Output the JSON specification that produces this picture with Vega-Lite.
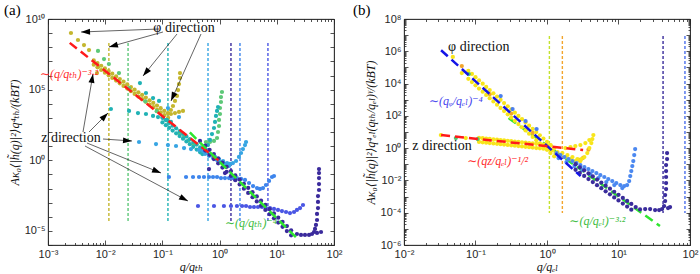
{
"$schema":"https://vega.github.io/schema/vega-lite/v6.json",
"background":"white",
"padding":{"left":3,"top":2,"right":2,"bottom":0},
"bounds":"flush",
"spacing":70,
"config":{
 "view":{"stroke":"#262626","strokeWidth":0.8},
 "axis":{"grid":false,"domainColor":"#262626","domainWidth":0.8,"tickColor":"#262626","tickWidth":0.8,"labelColor":"#262626","labelFont":"Liberation Sans","labelFontSize":11,"titleFont":"Liberation Serif, Times New Roman, DejaVu Serif, serif","titleFontStyle":"italic","titleFontWeight":"normal","titleFontSize":12,"titleColor":"#111111"},
 "title":{"font":"Liberation Serif, Times New Roman, DejaVu Serif, serif","fontSize":15,"fontWeight":"normal","anchor":"start","frame":"group","offset":-5,"color":"#000000"}
},
"datasets":{
 "vlinesA":[
  {"x":0.0116,"y":2.0e8,"y2":5.0e-5,"s":"ao"},{"x":0.0251,"y":2.0e8,"y2":5.0e-5,"s":"ag"},{"x":0.125,"y":2.0e8,"y2":5.0e-5,"s":"at"},{"x":0.627,"y":2.0e8,"y2":5.0e-5,"s":"al"},{"x":1.58,"y":2.0e8,"y2":5.0e-5,"s":"ai"},{"x":2.27,"y":2.0e8,"y2":5.0e-5,"s":"ab"},{"x":7.0,"y":2.0e8,"y2":5.0e-5,"s":"av"}],
 "vlinesB":[
  {"x":1.08,"y":8.9e6,"y2":9.5e-5,"s":"blime"},{"x":1.64,"y":8.9e6,"y2":9.5e-5,"s":"bo"},{"x":42,"y":8.9e6,"y2":9.5e-5,"s":"bi"},{"x":85,"y":8.9e6,"y2":9.5e-5,"s":"bv"}],
 "fitA":[
  {"x":2.4e-3,"y":2.04e8,"f":"fr"},{"x":0.955,"y":0.977,"f":"fr"},
  {"x":0.302,"y":92.5,"f":"fg"},{"x":21.9,"y":3.36e-6,"f":"fg"}],
 "fitB":[
  {"x":0.033,"y":1.16e6,"f":"fb"},{"x":2.95,"y":0.0184,"f":"fb"},
  {"x":0.033,"y":6.46,"f":"fr"},{"x":3.2,"y":0.767,"f":"fr"},
  {"x":0.29,"y":73.4,"f":"fg"},{"x":38,"y":1.5e-5,"f":"fg"}],
 "arrowsA":[
  {"x":0.0872,"y":1.96e9,"x2":3.78e-3,"y2":1.20e9},
  {"x":0.1023,"y":1.20e9,"x2":0.01164,"y2":1.04e8},
  {"x":0.180,"y":8.67e8,"x2":0.0458,"y2":9.2e5},
  {"x":0.473,"y":8.67e8,"x2":0.1413,"y2":1.57e4},
  {"x":4.09e-3,"y":100,"x2":6.12e-3,"y2":1.28e6},
  {"x":5.21e-3,"y":100,"x2":0.01119,"y2":2213},
  {"x":9.16e-3,"y":31.9,"x2":0.02944,"y2":23.1},
  {"x":4.81e-3,"y":16.6,"x2":0.0946,"y2":0.125},
  {"x":4.44e-3,"y":10.2,"x2":0.280,"y2":1.30e-3}],
 "dirA":[{"x":0.239,"y":2.31e9,"t":"φ direction"},{"x":2.52e-3,"y":37.6,"t":"z direction"}],
 "mathA":[{"x":2.33e-3,"y":1.28e6,"t":"∼(q/qₜₕ)⁻³·²","s":"tr"},{"x":3.54,"y":3.6e-5,"t":"∼(q/qₜₕ)⁻⁴","s":"tg"}],
 "dirB":[{"x":0.111,"y":1.84e6,"t":"φ direction"},{"x":0.0339,"y":1.35,"t":"z direction"}],
 "mathB":[{"x":0.0531,"y":832,"t":"∼(qᵩ/qₑₗ)⁻⁴","s":"tb"},{"x":0.204,"y":0.159,"t":"∼(qz/qₑₗ)⁻¹/²","s":"tr"},{"x":5.06,"y":3.05e-5,"t":"∼(q/qₑₗ)⁻³·²","s":"tg"}],
 "ptsA":[
  {"x":2.52e-3,"y":1.02e9,"s":"ao"},{"x":3.34e-3,"y":3.26e8,"s":"ao"},{"x":4.26e-3,"y":1.44e8,"s":"ao"},{"x":5.21e-3,"y":6.38e7,"s":"ao"},{"x":7.19e-3,"y":1.50e6,"s":"ao"},{"x":7.48e-3,"y":4.0e6,"s":"ao"},
  {"x":6.31e-3,"y":1.16e7,"s":"ao"},{"x":7.33e-3,"y":7.55e6,"s":"ao"},{"x":8.51e-3,"y":4.90e6,"s":"ao"},{"x":9.89e-3,"y":3.18e6,"s":"ao"},{"x":1.15e-2,"y":2.06e6,"s":"ao"},{"x":1.33e-2,"y":1.34e6,"s":"ao"},{"x":1.55e-2,"y":8.67e5,"s":"ao"},{"x":1.80e-2,"y":5.62e5,"s":"ao"},{"x":2.09e-2,"y":3.65e5,"s":"ao"},{"x":2.43e-2,"y":2.37e5,"s":"ao"},{"x":2.82e-2,"y":1.53e5,"s":"ao"},{"x":3.27e-2,"y":9.95e4,"s":"ao"},{"x":3.80e-2,"y":6.46e4,"s":"ao"},{"x":4.42e-2,"y":4.19e4,"s":"ao"},{"x":5.13e-2,"y":2.72e4,"s":"ao"},{"x":5.96e-2,"y":1.76e4,"s":"ao"},{"x":6.92e-2,"y":1.14e4,"s":"ao"},{"x":8.04e-2,"y":7.41e3,"s":"ao"},{"x":9.33e-2,"y":4.81e3,"s":"ao"},{"x":0.108,"y":3.12e3,"s":"ao"},{"x":0.126,"y":2.02e3,"s":"ao"},
  {"x":6.31e-3,"y":5.83e6,"s":"ao"},{"x":7.33e-3,"y":3.78e6,"s":"ao"},{"x":8.51e-3,"y":2.45e6,"s":"ao"},{"x":9.89e-3,"y":1.59e6,"s":"ao"},{"x":1.15e-2,"y":1.03e6,"s":"ao"},{"x":1.33e-2,"y":6.70e5,"s":"ao"},{"x":1.55e-2,"y":4.34e5,"s":"ao"},{"x":1.80e-2,"y":2.82e5,"s":"ao"},{"x":2.09e-2,"y":1.83e5,"s":"ao"},{"x":2.43e-2,"y":1.19e5,"s":"ao"},{"x":2.82e-2,"y":7.69e4,"s":"ao"},{"x":3.27e-2,"y":4.99e4,"s":"ao"},{"x":3.80e-2,"y":3.24e4,"s":"ao"},{"x":4.42e-2,"y":2.10e4,"s":"ao"},{"x":5.13e-2,"y":1.36e4,"s":"ao"},{"x":5.96e-2,"y":8.83e3,"s":"ao"},{"x":6.92e-2,"y":5.73e3,"s":"ao"},{"x":8.04e-2,"y":3.72e3,"s":"ao"},{"x":9.33e-2,"y":2.41e3,"s":"ao"},{"x":0.108,"y":1.56e3,"s":"ao"},{"x":0.126,"y":1.01e3,"s":"ao"},
  {"x":0.125,"y":2.21e3,"s":"ao"},{"x":0.141,"y":3.61e3,"s":"ao"},{"x":0.153,"y":6.93e3,"s":"ao"},{"x":0.166,"y":1.57e4,"s":"ao"},{"x":0.180,"y":3.54e4,"s":"ao"},{"x":0.188,"y":9.40e4,"s":"ao"},{"x":0.195,"y":2.50e5,"s":"ao"},{"x":0.203,"y":6.65e5,"s":"ao"},{"x":0.203,"y":1.50e6,"s":"ao"},
  {"x":0.141,"y":1.88e3,"s":"ao"},{"x":0.166,"y":2.21e3,"s":"ao"},{"x":0.195,"y":2.61e3,"s":"ao"},{"x":0.229,"y":3.07e3,"s":"ao"},
  {"x":7.48e-3,"y":5.43e7,"s":"ag"},{"x":9.53e-3,"y":1.47e7,"s":"ag"},{"x":1.16e-2,"y":6.52e6,"s":"ag"},{"x":1.74e-2,"y":1.50e6,"s":"ag"},{"x":2.61e-2,"y":1.30e5,"s":"ag"},{"x":0.0501,"y":1.5e4,"s":"ag"},{"x":0.0794,"y":3.0e3,"s":"ag"},{"x":0.126,"y":600,"s":"ag"},
  {"x":0.200,"y":82.4,"s":"ag"},{"x":0.240,"y":45.7,"s":"ag"},{"x":0.288,"y":25.4,"s":"ag"},{"x":0.347,"y":14.1,"s":"ag"},
  {"x":0.578,"y":19.6,"s":"ag"},{"x":0.679,"y":19.6,"s":"ag"},{"x":0.798,"y":23.1,"s":"ag"},{"x":0.902,"y":37.6,"s":"ag"},{"x":0.938,"y":100,"s":"ag"},{"x":0.977,"y":266,"s":"ag"},{"x":0.977,"y":708,"s":"ag"},{"x":1.016,"y":1.88e3,"s":"ag"},{"x":1.016,"y":5.0e3,"s":"ag"},{"x":1.057,"y":1.33e4,"s":"ag"},{"x":1.057,"y":3.0e4,"s":"ag"},{"x":1.10,"y":6.79e4,"s":"ag"},
  {"x":0.0405,"y":2.94e5,"s":"at"},{"x":0.0516,"y":5.77e4,"s":"at"},{"x":0.0686,"y":2.55e4,"s":"at"},{"x":0.0873,"y":1.57e4,"s":"at"},
  {"x":0.0126,"y":4.25e3,"s":"at"},{"x":0.0261,"y":3.07e3,"s":"at"},{"x":0.0374,"y":2.21e3,"s":"at"},{"x":0.0516,"y":1.88e3,"s":"at"},{"x":0.0686,"y":1.36e3,"s":"at"},{"x":0.0838,"y":1.15e3,"s":"at"},{"x":0.102,"y":980,"s":"at"},{"x":0.120,"y":708,"s":"at"},{"x":0.141,"y":511,"s":"at"},
  {"x":0.1,"y":1.06e3,"s":"at"},{"x":0.115,"y":682,"s":"at"},{"x":0.132,"y":439,"s":"at"},{"x":0.151,"y":282,"s":"at"},{"x":0.174,"y":181,"s":"at"},{"x":0.200,"y":116,"s":"at"},{"x":0.229,"y":74.8,"s":"at"},{"x":0.263,"y":48.1,"s":"at"},{"x":0.302,"y":30.9,"s":"at"},{"x":0.347,"y":19.9,"s":"at"},{"x":0.398,"y":12.8,"s":"at"},{"x":0.457,"y":8.20,"s":"at"},{"x":0.501,"y":6.11,"s":"at"},
  {"x":0.1,"y":474,"s":"at"},{"x":0.115,"y":305,"s":"at"},{"x":0.132,"y":196,"s":"at"},{"x":0.151,"y":126,"s":"at"},{"x":0.174,"y":80.9,"s":"at"},{"x":0.200,"y":52.0,"s":"at"},{"x":0.229,"y":33.4,"s":"at"},{"x":0.263,"y":21.5,"s":"at"},{"x":0.302,"y":13.8,"s":"at"},{"x":0.347,"y":8.87,"s":"at"},{"x":0.398,"y":5.70,"s":"at"},{"x":0.457,"y":3.66,"s":"at"},{"x":0.501,"y":2.73,"s":"at"},
  {"x":0.556,"y":6.25,"s":"at"},{"x":0.627,"y":12.0,"s":"at"},{"x":0.679,"y":27.2,"s":"at"},{"x":0.736,"y":72.1,"s":"at"},{"x":0.798,"y":192,"s":"at"},{"x":0.832,"y":511,"s":"at"},{"x":0.865,"y":1.36e3,"s":"at"},{"x":0.902,"y":3.07e3,"s":"at"},{"x":0.938,"y":5.89e3,"s":"at"},
  {"x":0.0390,"y":19.6,"s":"al"},{"x":0.0773,"y":14.1,"s":"al"},{"x":0.125,"y":12.0,"s":"al"},{"x":0.173,"y":10.2,"s":"al"},{"x":0.239,"y":7.36,"s":"al"},{"x":0.316,"y":6.25,"s":"al"},{"x":0.437,"y":5.32,"s":"al"},{"x":0.513,"y":4.52,"s":"al"},{"x":0.603,"y":3.26,"s":"al"},{"x":0.708,"y":2.35,"s":"al"},{"x":0.832,"y":1.70,"s":"al"},{"x":0.977,"y":1.22,"s":"al"},{"x":1.15,"y":0.885,"s":"al"},{"x":1.35,"y":0.638,"s":"al"},{"x":1.52,"y":0.543,"s":"al"},{"x":1.71,"y":0.638,"s":"al"},{"x":1.94,"y":0.885,"s":"al"},{"x":2.18,"y":1.70,"s":"al"},{"x":2.37,"y":3.26,"s":"al"},{"x":2.56,"y":6.25,"s":"al"},{"x":2.78,"y":12.0,"s":"al"},{"x":2.90,"y":19.6,"s":"al"},
  {"x":0.556,"y":2.77,"s":"al"},{"x":0.653,"y":2.0,"s":"al"},{"x":0.767,"y":1.44,"s":"al"},{"x":0.902,"y":1.04,"s":"al"},{"x":1.057,"y":0.752,"s":"al"},{"x":1.24,"y":0.543,"s":"al"},{"x":1.46,"y":0.392,"s":"al"},{"x":0.125,"y":5.0e3,"s":"al"},{"x":0.195,"y":1.15e3,"s":"al"},
  {"x":0.130,"y":0.0652,"s":"ab"},{"x":0.259,"y":0.0652,"s":"ab"},{"x":0.343,"y":0.0652,"s":"ab"},{"x":0.437,"y":0.0652,"s":"ab"},{"x":0.533,"y":0.0652,"s":"ab"},{"x":0.653,"y":0.0652,"s":"ab"},{"x":0.767,"y":0.0652,"s":"ab"},{"x":0.902,"y":0.0652,"s":"ab"},{"x":1.057,"y":0.0553,"s":"ab"},{"x":1.24,"y":0.0553,"s":"ab"},{"x":1.46,"y":0.0553,"s":"ab"},{"x":1.71,"y":0.0553,"s":"ab"},{"x":2.01,"y":0.0553,"s":"ab"},{"x":2.37,"y":0.0471,"s":"ab"},{"x":2.78,"y":0.0400,"s":"ab"},{"x":3.27,"y":0.0245,"s":"ab"},{"x":3.84,"y":0.0150,"s":"ab"},{"x":4.51,"y":0.0108,"s":"ab"},{"x":5.08,"y":9.23e-3,"s":"ab"},{"x":5.74,"y":0.0108,"s":"ab"},{"x":6.47,"y":0.0177,"s":"ab"},{"x":7.31,"y":0.0340,"s":"ab"},{"x":8.24,"y":0.0652,"s":"ab"},{"x":8.93,"y":0.0767,"s":"ab"},
  {"x":0.419,"y":5.77e-4,"s":"av"},{"x":0.798,"y":5.77e-4,"s":"av"},{"x":1.19,"y":5.77e-4,"s":"av"},{"x":1.58,"y":5.77e-4,"s":"av"},{"x":2.01,"y":5.77e-4,"s":"av"},{"x":2.47,"y":5.77e-4,"s":"av"},{"x":2.90,"y":5.77e-4,"s":"av"},{"x":3.40,"y":4.90e-4,"s":"av"},{"x":3.99,"y":4.90e-4,"s":"av"},{"x":4.69,"y":4.90e-4,"s":"av"},{"x":5.51,"y":4.90e-4,"s":"av"},{"x":6.47,"y":4.16e-4,"s":"av"},{"x":7.60,"y":4.16e-4,"s":"av"},{"x":8.93,"y":3.54e-4,"s":"av"},{"x":10.5,"y":3.01e-4,"s":"av"},{"x":12.3,"y":2.55e-4,"s":"av"},{"x":14.5,"y":2.17e-4,"s":"av"},{"x":17.0,"y":1.84e-4,"s":"av"},{"x":20.0,"y":2.17e-4,"s":"av"},{"x":22.5,"y":3.01e-4,"s":"av"},{"x":25.5,"y":4.16e-4,"s":"av"},{"x":28.7,"y":6.79e-4,"s":"av"},
  {"x":0.454,"y":23.1,"s":"ai"},{"x":0.653,"y":0.240,"s":"ai"},{"x":1.24,"y":0.125,"s":"ai"},
  {"x":0.562,"y":10.9,"s":"ai"},{"x":0.668,"y":5.44,"s":"ai"},{"x":0.794,"y":2.73,"s":"ai"},{"x":0.944,"y":1.37,"s":"ai"},{"x":1.12,"y":0.685,"s":"ai"},{"x":1.33,"y":0.344,"s":"ai"},{"x":1.58,"y":0.172,"s":"ai"},{"x":1.88,"y":0.0863,"s":"ai"},{"x":2.24,"y":0.0433,"s":"ai"},{"x":2.66,"y":0.0217,"s":"ai"},{"x":3.16,"y":0.0109,"s":"ai"},{"x":3.76,"y":5.44e-3,"s":"ai"},{"x":4.47,"y":2.73e-3,"s":"ai"},{"x":5.31,"y":1.37e-3,"s":"ai"},{"x":6.31,"y":6.85e-4,"s":"ai"},{"x":7.50,"y":3.44e-4,"s":"ai"},{"x":8.91,"y":1.72e-4,"s":"ai"},{"x":10.6,"y":8.63e-5,"s":"ai"},{"x":12.6,"y":4.33e-5,"s":"ai"},{"x":15.0,"y":2.17e-5,"s":"ai"},{"x":17.8,"y":1.09e-5,"s":"ai"},
  {"x":0.562,"y":4.85,"s":"ai"},{"x":0.668,"y":2.43,"s":"ai"},{"x":0.794,"y":1.22,"s":"ai"},{"x":0.944,"y":0.611,"s":"ai"},{"x":1.12,"y":0.306,"s":"ai"},{"x":1.33,"y":0.153,"s":"ai"},{"x":1.58,"y":0.0769,"s":"ai"},{"x":1.88,"y":0.0385,"s":"ai"},{"x":2.24,"y":0.0193,"s":"ai"},{"x":2.66,"y":9.68e-3,"s":"ai"},{"x":3.16,"y":4.85e-3,"s":"ai"},{"x":3.76,"y":2.43e-3,"s":"ai"},{"x":4.47,"y":1.22e-3,"s":"ai"},{"x":5.31,"y":6.11e-4,"s":"ai"},{"x":6.31,"y":3.06e-4,"s":"ai"},{"x":7.50,"y":1.53e-4,"s":"ai"},{"x":8.91,"y":7.69e-5,"s":"ai"},{"x":10.6,"y":3.85e-5,"s":"ai"},{"x":12.6,"y":1.93e-5,"s":"ai"},{"x":15.0,"y":9.68e-6,"s":"ai"},{"x":17.8,"y":4.85e-6,"s":"ai"},
  {"x":22.5,"y":6.01e-6,"s":"ai"},{"x":26.5,"y":5.11e-6,"s":"ai"},{"x":31.1,"y":5.11e-6,"s":"ai"},{"x":36.6,"y":5.11e-6,"s":"ai"},{"x":41.2,"y":6.01e-6,"s":"ai"},{"x":44.7,"y":8.32e-6,"s":"ai"},{"x":46.6,"y":1.36e-5,"s":"ai"},{"x":48.4,"y":2.61e-5,"s":"ai"},{"x":50.5,"y":5.89e-5,"s":"ai"},{"x":50.5,"y":1.57e-4,"s":"ai"},{"x":52.5,"y":4.16e-4,"s":"ai"},{"x":52.5,"y":1.11e-3,"s":"ai"},{"x":52.5,"y":2.94e-3,"s":"ai"},{"x":54.7,"y":7.83e-3,"s":"ai"},{"x":54.7,"y":0.0208,"s":"ai"},{"x":54.7,"y":0.0553,"s":"ai"},{"x":54.7,"y":0.125,"s":"ai"},{"x":54.7,"y":0.240,"s":"ai"},{"x":50.5,"y":7.08e-6,"s":"ai"},{"x":59.3,"y":8.32e-6,"s":"ai"}
 ],
 "ptsB":[
  {"x":0.0643,"y":1.22e5,"s":"bo"},{"x":0.158,"y":2.21e3,"s":"bo"},{"x":0.316,"y":139,"s":"bo"},{"x":0.631,"y":8.79,"s":"bo"},{"x":2.8,"y":0.19,"s":"bo"},{"x":3.2,"y":0.25,"s":"bo"},{"x":3.8,"y":0.8,"s":"bo"},
  {"x":0.0482,"y":4.43e5,"s":"by"},{"x":0.0643,"y":4.51e4,"s":"by"},
  {"x":0.0794,"y":6.22e4,"s":"by"},{"x":0.0891,"y":3.93e4,"s":"by"},{"x":0.100,"y":2.48e4,"s":"by"},{"x":0.112,"y":1.56e4,"s":"by"},{"x":0.126,"y":9.86e3,"s":"by"},{"x":0.141,"y":6.22e3,"s":"by"},{"x":0.158,"y":3.93e3,"s":"by"},{"x":0.178,"y":2.48e3,"s":"by"},{"x":0.200,"y":1.56e3,"s":"by"},{"x":0.224,"y":986,"s":"by"},{"x":0.251,"y":622,"s":"by"},{"x":0.282,"y":393,"s":"by"},{"x":0.316,"y":248,"s":"by"},{"x":0.355,"y":156,"s":"by"},{"x":0.398,"y":98.6,"s":"by"},{"x":0.447,"y":62.2,"s":"by"},{"x":0.501,"y":39.3,"s":"by"},{"x":0.562,"y":24.8,"s":"by"},{"x":0.631,"y":15.6,"s":"by"},{"x":0.708,"y":9.86,"s":"by"},{"x":0.794,"y":6.22,"s":"by"},{"x":0.891,"y":3.93,"s":"by"},{"x":1.0,"y":2.48,"s":"by"},{"x":1.12,"y":1.56,"s":"by"},{"x":1.26,"y":0.986,"s":"by"},
  {"x":0.0794,"y":1.97e4,"s":"by"},{"x":0.0891,"y":1.24e4,"s":"by"},{"x":0.100,"y":7.83e3,"s":"by"},{"x":0.112,"y":4.94e3,"s":"by"},{"x":0.126,"y":3.12e3,"s":"by"},{"x":0.141,"y":1.97e3,"s":"by"},{"x":0.158,"y":1.24e3,"s":"by"},{"x":0.178,"y":783,"s":"by"},{"x":0.200,"y":494,"s":"by"},{"x":0.224,"y":312,"s":"by"},{"x":0.251,"y":197,"s":"by"},{"x":0.282,"y":124,"s":"by"},{"x":0.316,"y":78.3,"s":"by"},{"x":0.355,"y":49.4,"s":"by"},{"x":0.398,"y":31.2,"s":"by"},{"x":0.447,"y":19.7,"s":"by"},{"x":0.501,"y":12.4,"s":"by"},{"x":0.562,"y":7.83,"s":"by"},{"x":0.631,"y":4.94,"s":"by"},{"x":0.708,"y":3.12,"s":"by"},{"x":0.794,"y":1.97,"s":"by"},{"x":0.891,"y":1.24,"s":"by"},{"x":1.0,"y":0.783,"s":"by"},{"x":1.12,"y":0.494,"s":"by"},{"x":1.26,"y":0.312,"s":"by"},
  {"x":0.0328,"y":6.50,"s":"by"},{"x":0.0731,"y":4.24,"s":"by"},
  {"x":0.112,"y":4.39,"s":"by"},{"x":0.126,"y":4.16,"s":"by"},{"x":0.141,"y":3.94,"s":"by"},{"x":0.158,"y":3.73,"s":"by"},{"x":0.178,"y":3.54,"s":"by"},{"x":0.200,"y":3.36,"s":"by"},{"x":0.224,"y":3.18,"s":"by"},{"x":0.251,"y":3.01,"s":"by"},{"x":0.282,"y":2.86,"s":"by"},{"x":0.316,"y":2.71,"s":"by"},{"x":0.355,"y":2.56,"s":"by"},{"x":0.398,"y":2.43,"s":"by"},{"x":0.447,"y":2.31,"s":"by"},{"x":0.501,"y":2.19,"s":"by"},{"x":0.562,"y":2.07,"s":"by"},{"x":0.631,"y":1.96,"s":"by"},{"x":0.708,"y":1.86,"s":"by"},{"x":0.794,"y":1.77,"s":"by"},{"x":0.891,"y":1.67,"s":"by"},{"x":1.0,"y":1.58,"s":"by"},{"x":1.12,"y":1.50,"s":"by"},
  {"x":0.112,"y":2.41,"s":"by"},{"x":0.126,"y":2.29,"s":"by"},{"x":0.141,"y":2.16,"s":"by"},{"x":0.158,"y":2.05,"s":"by"},{"x":0.178,"y":1.95,"s":"by"},{"x":0.200,"y":1.85,"s":"by"},{"x":0.224,"y":1.75,"s":"by"},{"x":0.251,"y":1.66,"s":"by"},{"x":0.282,"y":1.57,"s":"by"},{"x":0.316,"y":1.49,"s":"by"},{"x":0.355,"y":1.41,"s":"by"},{"x":0.398,"y":1.34,"s":"by"},{"x":0.447,"y":1.27,"s":"by"},{"x":0.501,"y":1.20,"s":"by"},{"x":0.562,"y":1.14,"s":"by"},{"x":0.631,"y":1.08,"s":"by"},{"x":0.708,"y":1.02,"s":"by"},{"x":0.794,"y":0.970,"s":"by"},{"x":0.891,"y":0.918,"s":"by"},{"x":1.0,"y":0.871,"s":"by"},{"x":1.12,"y":0.826,"s":"by"},
  {"x":1.19,"y":0.765,"s":"by"},{"x":1.40,"y":0.575,"s":"by"},{"x":1.64,"y":0.499,"s":"by"},{"x":1.93,"y":0.375,"s":"by"},{"x":2.27,"y":0.282,"s":"by"},{"x":2.66,"y":0.212,"s":"by"},{"x":3.03,"y":0.212,"s":"by"},{"x":3.33,"y":0.282,"s":"by"},{"x":3.66,"y":0.499,"s":"by"},{"x":3.91,"y":1.02,"s":"by"},{"x":4.17,"y":2.07,"s":"by"},{"x":4.31,"y":3.67,"s":"by"},{"x":4.45,"y":6.50,"s":"by"},
  {"x":1.31,"y":0.499,"s":"by"},{"x":1.54,"y":0.375,"s":"by"},{"x":1.81,"y":0.282,"s":"by"},{"x":2.13,"y":0.212,"s":"by"},{"x":2.49,"y":0.159,"s":"by"},{"x":2.93,"y":0.159,"s":"by"},
  {"x":1.81,"y":1.02,"s":"by"},{"x":2.13,"y":1.17,"s":"by"},{"x":2.49,"y":1.35,"s":"by"},{"x":2.93,"y":1.56,"s":"by"},{"x":3.44,"y":2.07,"s":"by"},{"x":3.91,"y":3.18,"s":"by"},
  {"x":0.0531,"y":4.24,"s":"bg"},{"x":0.107,"y":3.67,"s":"bg"},{"x":0.0806,"y":3.91e4,"s":"bg"},
  {"x":0.225,"y":1.69e3,"s":"bb"},{"x":0.330,"y":265,"s":"bb"},{"x":0.501,"y":47.9,"s":"bb"},{"x":0.715,"y":15.3,"s":"bb"},
  {"x":1.36,"y":0.499,"s":"bl"},{"x":1.54,"y":0.375,"s":"bl"},{"x":1.75,"y":0.282,"s":"bl"},{"x":2.00,"y":0.212,"s":"bl"},{"x":2.27,"y":0.159,"s":"bl"},{"x":2.58,"y":0.120,"s":"bl"},{"x":2.93,"y":0.0899,"s":"bl"},{"x":3.33,"y":0.0676,"s":"bl"},{"x":3.79,"y":0.0508,"s":"bl"},{"x":4.31,"y":0.0382,"s":"bl"},{"x":4.90,"y":0.0288,"s":"bl"},{"x":5.57,"y":0.0216,"s":"bl"},{"x":6.33,"y":0.0163,"s":"bl"},{"x":7.19,"y":0.0122,"s":"bl"},{"x":8.18,"y":9.18e-3,"s":"bl"},{"x":9.31,"y":6.90e-3,"s":"bl"},{"x":10.6,"y":5.19e-3,"s":"bl"},{"x":12.0,"y":4.50e-3,"s":"bl"},{"x":13.2,"y":5.19e-3,"s":"bl"},{"x":14.1,"y":9.18e-3,"s":"bl"},{"x":14.6,"y":0.0187,"s":"bl"},{"x":15.1,"y":0.0382,"s":"bl"},{"x":15.6,"y":0.0780,"s":"bl"},{"x":16.1,"y":0.159,"s":"bl"},{"x":16.6,"y":0.375,"s":"bl"},{"x":17.1,"y":0.881,"s":"bl"},
  {"x":1.45,"y":0.244,"s":"bl"},{"x":1.87,"y":0.138,"s":"bl"},{"x":2.42,"y":0.0780,"s":"bl"},{"x":3.13,"y":0.0441,"s":"bl"},{"x":4.04,"y":0.0249,"s":"bl"},{"x":5.22,"y":0.0141,"s":"bl"},{"x":6.75,"y":7.96e-3,"s":"bl"},{"x":8.73,"y":5.19e-3,"s":"bl"},{"x":11.3,"y":3.38e-3,"s":"bl"},
  {"x":2.51,"y":0.101,"s":"bi"},{"x":2.88,"y":0.0653,"s":"bi"},{"x":3.31,"y":0.0423,"s":"bi"},{"x":3.80,"y":0.0273,"s":"bi"},{"x":4.37,"y":0.0177,"s":"bi"},{"x":5.01,"y":0.0114,"s":"bi"},{"x":5.75,"y":7.36e-3,"s":"bi"},{"x":6.61,"y":4.76e-3,"s":"bi"},{"x":7.59,"y":3.08e-3,"s":"bi"},{"x":8.71,"y":1.99e-3,"s":"bi"},{"x":10.0,"y":1.29e-3,"s":"bi"},{"x":11.5,"y":8.30e-4,"s":"bi"},{"x":13.2,"y":5.37e-4,"s":"bi"},{"x":15.1,"y":3.47e-4,"s":"bi"},{"x":17.4,"y":2.24e-4,"s":"bi"},{"x":20.0,"y":1.6e-4,"s":"bi"},
  {"x":2.51,"y":0.0452,"s":"bi"},{"x":2.88,"y":0.0292,"s":"bi"},{"x":3.31,"y":0.0189,"s":"bi"},{"x":3.80,"y":0.0122,"s":"bi"},{"x":4.37,"y":7.89e-3,"s":"bi"},{"x":5.01,"y":5.09e-3,"s":"bi"},{"x":5.75,"y":3.29e-3,"s":"bi"},{"x":6.61,"y":2.13e-3,"s":"bi"},{"x":7.59,"y":1.37e-3,"s":"bi"},{"x":8.71,"y":8.89e-4,"s":"bi"},{"x":10.0,"y":5.74e-4,"s":"bi"},{"x":11.5,"y":3.71e-4,"s":"bi"},{"x":13.2,"y":2.40e-4,"s":"bi"},{"x":15.1,"y":1.55e-4,"s":"bi"},
  {"x":23.6,"y":1.69e-4,"s":"bi"},{"x":27.7,"y":1.69e-4,"s":"bi"},{"x":32.5,"y":1.47e-4,"s":"bi"},{"x":37.0,"y":1.47e-4,"s":"bi"},{"x":40.7,"y":1.69e-4,"s":"bi"},{"x":43.4,"y":2.59e-4,"s":"bi"},{"x":44.9,"y":5.30e-4,"s":"bi"},{"x":44.9,"y":1.24e-3,"s":"bi"},{"x":46.3,"y":2.93e-3,"s":"bi"},{"x":46.3,"y":6.90e-3,"s":"bi"},{"x":46.3,"y":0.0163,"s":"bi"},{"x":46.3,"y":0.0382,"s":"bi"},{"x":46.3,"y":0.0899,"s":"bi"},{"x":47.8,"y":0.212,"s":"bi"},{"x":47.8,"y":0.499,"s":"bi"},{"x":49.3,"y":1.95e-4,"s":"bi"},{"x":52.6,"y":2.25e-4,"s":"bi"}
 ]
},
"hconcat":[
 {
  "width":286,"height":226,
  "title":{"text":"(a)","dx":-44},
  "resolve":{"axis":{"x":"independent","y":"independent"}},
  "layer":[
   {"data":{"name":"vlinesA"},"mark":{"type":"rule","strokeDash":[3,2],"strokeWidth":1.4},
    "encoding":{
     "x":{"field":"x","type":"quantitative","scale":{"type":"log","domain":[0.001,100],"nice":false},
      "axis":{"orient":"bottom","values":[0.001,0.002,0.003,0.004,0.005,0.006,0.007,0.008,0.009,0.01,0.02,0.03,0.04,0.05,0.06,0.07,0.08,0.09,0.1,0.2,0.3,0.4,0.5,0.6,0.7,0.8,0.9,1,2,3,4,5,6,7,8,9,10,20,30,40,50,60,70,80,90,100],
       "labelExpr":"abs(log(datum.value)/LN10 - round(log(datum.value)/LN10)) < 0.001 ? '10' + (datum.value < 1 ? '⁻' : '') + substring('⁰¹²³⁴⁵⁶⁷⁸⁹', abs(round(log(datum.value)/LN10)) % 10, abs(round(log(datum.value)/LN10)) % 10 + 1) : ''",
       "tickSize":{"condition":{"test":"abs(log(datum.value)/LN10 - round(log(datum.value)/LN10)) < 0.001","value":-5},"value":-2.5},
       "labelPadding":8,"labelOverlap":false,"labelFlush":false,"title":"q/qₜₕ","titlePadding":0}},
     "y":{"field":"y","type":"quantitative","scale":{"type":"log","domain":[1e-6,1e10],"nice":false},
      "axis":{"orient":"left","values":[1e-6,1e-5,1e-4,0.001,0.01,0.1,1,10,100,1000,1e4,1e5,1e6,1e7,1e8,1e9,1e10],
       "labelExpr":"round(log(datum.value)/LN10) % 5 == 0 ? '10' + (datum.value < 1 ? '⁻' : '') + (abs(round(log(datum.value)/LN10)) >= 10 ? '¹' : '') + substring('⁰¹²³⁴⁵⁶⁷⁸⁹', abs(round(log(datum.value)/LN10)) % 10, abs(round(log(datum.value)/LN10)) % 10 + 1) : ''",
       "tickSize":-4,"labelPadding":7,"labelOverlap":false,"labelFlush":false,"title":"Aκ₀⟨|h̃(q)|²⟩q⁴ₜₕ/(kBT)","titlePadding":3}},
     "y2":{"field":"y2"},
     "color":{"field":"s","type":"nominal","legend":null,"scale":{"domain":["ao","ag","at","al","ab","av","ai","by","bo","bg","bb","bl","bi","blime","bv","fr","fg","fb","tr","tg","tb"],"range":["#c4b62e","#5dc878","#20b2b5","#37a5e3","#3d85ec","#4a56e4","#3a2a9c","#f8e51a","#f2a52c","#52c46c","#4a7eee","#4b88f0","#3a2c9c","#c3e22e","#4b6fec","#ff1a1a","#2ee52e","#1414e6","#ff2a2a","#3cbc3c","#4545ee"]}}}},
   {"data":{"name":"ptsA"},"mark":{"type":"point","filled":true,"shape":"circle","size":18,"opacity":1},
    "encoding":{
     "x":{"field":"x","type":"quantitative","scale":{"type":"log","domain":[0.001,100],"nice":false},
      "axis":{"orient":"top","values":[0.001,0.002,0.003,0.004,0.005,0.006,0.007,0.008,0.009,0.01,0.02,0.03,0.04,0.05,0.06,0.07,0.08,0.09,0.1,0.2,0.3,0.4,0.5,0.6,0.7,0.8,0.9,1,2,3,4,5,6,7,8,9,10,20,30,40,50,60,70,80,90,100],"labels":false,"title":null,
       "tickSize":{"condition":{"test":"abs(log(datum.value)/LN10 - round(log(datum.value)/LN10)) < 0.001","value":-5},"value":-2.5}}},
     "y":{"field":"y","type":"quantitative","scale":{"type":"log","domain":[1e-6,1e10],"nice":false},
      "axis":{"orient":"right","values":[1e-6,1e-5,1e-4,0.001,0.01,0.1,1,10,100,1000,1e4,1e5,1e6,1e7,1e8,1e9,1e10],"labels":false,"title":null,"tickSize":-4}},
     "color":{"field":"s","type":"nominal","legend":null,"scale":{"domain":["ao","ag","at","al","ab","av","ai","by","bo","bg","bb","bl","bi","blime","bv","fr","fg","fb","tr","tg","tb"],"range":["#c4b62e","#5dc878","#20b2b5","#37a5e3","#3d85ec","#4a56e4","#3a2a9c","#f8e51a","#f2a52c","#52c46c","#4a7eee","#4b88f0","#3a2c9c","#c3e22e","#4b6fec","#ff1a1a","#2ee52e","#1414e6","#ff2a2a","#3cbc3c","#4545ee"]}}}},
   {"data":{"name":"fitA"},"mark":{"type":"line","strokeDash":[9,5],"strokeWidth":2.5},
    "encoding":{
     "x":{"field":"x","type":"quantitative","scale":{"type":"log","domain":[0.001,100],"nice":false},"axis":null},
     "y":{"field":"y","type":"quantitative","scale":{"type":"log","domain":[1e-6,1e10],"nice":false},"axis":null},
     "color":{"field":"f","type":"nominal","legend":null,"scale":{"domain":["ao","ag","at","al","ab","av","ai","by","bo","bg","bb","bl","bi","blime","bv","fr","fg","fb","tr","tg","tb"],"range":["#c4b62e","#5dc878","#20b2b5","#37a5e3","#3d85ec","#4a56e4","#3a2a9c","#f8e51a","#f2a52c","#52c46c","#4a7eee","#4b88f0","#3a2c9c","#c3e22e","#4b6fec","#ff1a1a","#2ee52e","#1414e6","#ff2a2a","#3cbc3c","#4545ee"]}}}},
   {"data":{"name":"arrowsA"},"mark":{"type":"rule","color":"#222222","strokeWidth":0.7},
    "encoding":{
     "x":{"field":"x","type":"quantitative","scale":{"type":"log","domain":[0.001,100],"nice":false},"axis":null},
     "y":{"field":"y","type":"quantitative","scale":{"type":"log","domain":[1e-6,1e10],"nice":false},"axis":null},
     "x2":{"field":"x2"},"y2":{"field":"y2"}}},
   {"data":{"name":"arrowsA"},"transform":[{"calculate":"atan2(57.2*log(datum.x2/datum.x)/LN10, 14.125*log(datum.y2/datum.y)/LN10)*180/PI","as":"ang"}],
    "mark":{"type":"point","shape":"M0,0L-0.6,1.8L0.6,1.8Z","filled":true,"color":"#000000","size":100,"opacity":1},
    "encoding":{
     "x":{"field":"x2","type":"quantitative","scale":{"type":"log","domain":[0.001,100],"nice":false},"axis":null},
     "y":{"field":"y2","type":"quantitative","scale":{"type":"log","domain":[1e-6,1e10],"nice":false},"axis":null},
     "angle":{"field":"ang","type":"quantitative","scale":null}}},
   {"data":{"name":"dirA"},"mark":{"type":"text","font":"Liberation Serif, Times New Roman, DejaVu Serif, serif","fontSize":14,"color":"#111111"},
    "encoding":{
     "x":{"field":"x","type":"quantitative","scale":{"type":"log","domain":[0.001,100],"nice":false},"axis":null},
     "y":{"field":"y","type":"quantitative","scale":{"type":"log","domain":[1e-6,1e10],"nice":false},"axis":null},
     "text":{"field":"t"}}},
   {"data":{"name":"mathA"},"mark":{"type":"text","font":"Liberation Serif, Times New Roman, DejaVu Serif, serif","fontSize":12,"fontStyle":"italic"},
    "encoding":{
     "x":{"field":"x","type":"quantitative","scale":{"type":"log","domain":[0.001,100],"nice":false},"axis":null},
     "y":{"field":"y","type":"quantitative","scale":{"type":"log","domain":[1e-6,1e10],"nice":false},"axis":null},
     "text":{"field":"t"},
     "color":{"field":"s","type":"nominal","legend":null,"scale":{"domain":["ao","ag","at","al","ab","av","ai","by","bo","bg","bb","bl","bi","blime","bv","fr","fg","fb","tr","tg","tb"],"range":["#c4b62e","#5dc878","#20b2b5","#37a5e3","#3d85ec","#4a56e4","#3a2a9c","#f8e51a","#f2a52c","#52c46c","#4a7eee","#4b88f0","#3a2c9c","#c3e22e","#4b6fec","#ff1a1a","#2ee52e","#1414e6","#ff2a2a","#3cbc3c","#4545ee"]}}}}
  ]
 },
 {
  "width":286,"height":226,
  "title":{"text":"(b)","dx":-51},
  "resolve":{"axis":{"x":"independent","y":"independent"}},
  "layer":[
   {"data":{"name":"vlinesB"},"mark":{"type":"rule","strokeDash":[3,2],"strokeWidth":1.4},
    "encoding":{
     "x":{"field":"x","type":"quantitative","scale":{"type":"log","domain":[0.01,100],"nice":false},
      "axis":{"orient":"bottom","values":[0.01,0.02,0.03,0.04,0.05,0.06,0.07,0.08,0.09,0.1,0.2,0.3,0.4,0.5,0.6,0.7,0.8,0.9,1,2,3,4,5,6,7,8,9,10,20,30,40,50,60,70,80,90,100],
       "labelExpr":"abs(log(datum.value)/LN10 - round(log(datum.value)/LN10)) < 0.001 ? '10' + (datum.value < 1 ? '⁻' : '') + substring('⁰¹²³⁴⁵⁶⁷⁸⁹', abs(round(log(datum.value)/LN10)) % 10, abs(round(log(datum.value)/LN10)) % 10 + 1) : ''",
       "tickSize":{"condition":{"test":"abs(log(datum.value)/LN10 - round(log(datum.value)/LN10)) < 0.001","value":-5},"value":-2.5},
       "labelPadding":8,"labelOverlap":false,"labelFlush":false,"title":"q/qₑₗ","titlePadding":0}},
     "y":{"field":"y","type":"quantitative","scale":{"type":"log","domain":[1e-6,1e8],"nice":false},
      "axis":{"orient":"left","values":[1e-6,2e-6,3e-6,4e-6,5e-6,6e-6,7e-6,8e-6,9e-6,1e-5,2e-5,3e-5,4e-5,5e-5,6e-5,7e-5,8e-5,9e-5,1e-4,2e-4,3e-4,4e-4,5e-4,6e-4,7e-4,8e-4,9e-4,0.001,0.002,0.003,0.004,0.005,0.006,0.007,0.008,0.009,0.01,0.02,0.03,0.04,0.05,0.06,0.07,0.08,0.09,0.1,0.2,0.3,0.4,0.5,0.6,0.7,0.8,0.9,1,2,3,4,5,6,7,8,9,10,20,30,40,50,60,70,80,90,100,200,300,400,500,600,700,800,900,1000,2000,3000,4000,5000,6000,7000,8000,9000,1e4,2e4,3e4,4e4,5e4,6e4,7e4,8e4,9e4,1e5,2e5,3e5,4e5,5e5,6e5,7e5,8e5,9e5,1e6,2e6,3e6,4e6,5e6,6e6,7e6,8e6,9e6,1e7,2e7,3e7,4e7,5e7,6e7,7e7,8e7,9e7,1e8],
       "labelExpr":"abs(log(datum.value)/LN10 - round(log(datum.value)/LN10)) < 0.001 && round(log(datum.value)/LN10) % 2 == 0 ? '10' + (datum.value < 1 ? '⁻' : '') + substring('⁰¹²³⁴⁵⁶⁷⁸⁹', abs(round(log(datum.value)/LN10)) % 10, abs(round(log(datum.value)/LN10)) % 10 + 1) : ''",
       "tickSize":{"condition":{"test":"abs(log(datum.value)/LN10 - round(log(datum.value)/LN10)) < 0.001","value":-4},"value":-2},
       "labelPadding":7,"labelOverlap":false,"labelFlush":false,"title":"Aκ₀⟨|h̃(q)|²⟩q⁴ₑₗ(qₜₕ/qₑₗ)ᵞ/(kBT)","titlePadding":3}},
     "y2":{"field":"y2"},
     "color":{"field":"s","type":"nominal","legend":null,"scale":{"domain":["ao","ag","at","al","ab","av","ai","by","bo","bg","bb","bl","bi","blime","bv","fr","fg","fb","tr","tg","tb"],"range":["#c4b62e","#5dc878","#20b2b5","#37a5e3","#3d85ec","#4a56e4","#3a2a9c","#f8e51a","#f2a52c","#52c46c","#4a7eee","#4b88f0","#3a2c9c","#c3e22e","#4b6fec","#ff1a1a","#2ee52e","#1414e6","#ff2a2a","#3cbc3c","#4545ee"]}}}},
   {"data":{"name":"fitB"},"transform":[{"filter":"datum.f == 'fg'"}],"mark":{"type":"line","strokeDash":[9,5],"strokeWidth":2.5},
    "encoding":{
     "x":{"field":"x","type":"quantitative","scale":{"type":"log","domain":[0.01,100],"nice":false},"axis":null},
     "y":{"field":"y","type":"quantitative","scale":{"type":"log","domain":[1e-6,1e8],"nice":false},"axis":null},
     "color":{"field":"f","type":"nominal","legend":null,"scale":{"domain":["ao","ag","at","al","ab","av","ai","by","bo","bg","bb","bl","bi","blime","bv","fr","fg","fb","tr","tg","tb"],"range":["#c4b62e","#5dc878","#20b2b5","#37a5e3","#3d85ec","#4a56e4","#3a2a9c","#f8e51a","#f2a52c","#52c46c","#4a7eee","#4b88f0","#3a2c9c","#c3e22e","#4b6fec","#ff1a1a","#2ee52e","#1414e6","#ff2a2a","#3cbc3c","#4545ee"]}}}},
   {"data":{"name":"ptsB"},"mark":{"type":"point","filled":true,"shape":"circle","size":18,"opacity":1},
    "encoding":{
     "x":{"field":"x","type":"quantitative","scale":{"type":"log","domain":[0.01,100],"nice":false},
      "axis":{"orient":"top","values":[0.01,0.02,0.03,0.04,0.05,0.06,0.07,0.08,0.09,0.1,0.2,0.3,0.4,0.5,0.6,0.7,0.8,0.9,1,2,3,4,5,6,7,8,9,10,20,30,40,50,60,70,80,90,100],"labels":false,"title":null,
       "tickSize":{"condition":{"test":"abs(log(datum.value)/LN10 - round(log(datum.value)/LN10)) < 0.001","value":-5},"value":-2.5}}},
     "y":{"field":"y","type":"quantitative","scale":{"type":"log","domain":[1e-6,1e8],"nice":false},
      "axis":{"orient":"right","values":[1e-6,2e-6,3e-6,4e-6,5e-6,6e-6,7e-6,8e-6,9e-6,1e-5,2e-5,3e-5,4e-5,5e-5,6e-5,7e-5,8e-5,9e-5,1e-4,2e-4,3e-4,4e-4,5e-4,6e-4,7e-4,8e-4,9e-4,0.001,0.002,0.003,0.004,0.005,0.006,0.007,0.008,0.009,0.01,0.02,0.03,0.04,0.05,0.06,0.07,0.08,0.09,0.1,0.2,0.3,0.4,0.5,0.6,0.7,0.8,0.9,1,2,3,4,5,6,7,8,9,10,20,30,40,50,60,70,80,90,100,200,300,400,500,600,700,800,900,1000,2000,3000,4000,5000,6000,7000,8000,9000,1e4,2e4,3e4,4e4,5e4,6e4,7e4,8e4,9e4,1e5,2e5,3e5,4e5,5e5,6e5,7e5,8e5,9e5,1e6,2e6,3e6,4e6,5e6,6e6,7e6,8e6,9e6,1e7,2e7,3e7,4e7,5e7,6e7,7e7,8e7,9e7,1e8],"labels":false,"title":null,
       "tickSize":{"condition":{"test":"abs(log(datum.value)/LN10 - round(log(datum.value)/LN10)) < 0.001","value":-4},"value":-2}}},
     "color":{"field":"s","type":"nominal","legend":null,"scale":{"domain":["ao","ag","at","al","ab","av","ai","by","bo","bg","bb","bl","bi","blime","bv","fr","fg","fb","tr","tg","tb"],"range":["#c4b62e","#5dc878","#20b2b5","#37a5e3","#3d85ec","#4a56e4","#3a2a9c","#f8e51a","#f2a52c","#52c46c","#4a7eee","#4b88f0","#3a2c9c","#c3e22e","#4b6fec","#ff1a1a","#2ee52e","#1414e6","#ff2a2a","#3cbc3c","#4545ee"]}}}},
   {"data":{"name":"fitB"},"transform":[{"filter":"datum.f != 'fg'"}],"mark":{"type":"line","strokeDash":[9,5],"strokeWidth":2.5},
    "encoding":{
     "x":{"field":"x","type":"quantitative","scale":{"type":"log","domain":[0.01,100],"nice":false},"axis":null},
     "y":{"field":"y","type":"quantitative","scale":{"type":"log","domain":[1e-6,1e8],"nice":false},"axis":null},
     "color":{"field":"f","type":"nominal","legend":null,"scale":{"domain":["ao","ag","at","al","ab","av","ai","by","bo","bg","bb","bl","bi","blime","bv","fr","fg","fb","tr","tg","tb"],"range":["#c4b62e","#5dc878","#20b2b5","#37a5e3","#3d85ec","#4a56e4","#3a2a9c","#f8e51a","#f2a52c","#52c46c","#4a7eee","#4b88f0","#3a2c9c","#c3e22e","#4b6fec","#ff1a1a","#2ee52e","#1414e6","#ff2a2a","#3cbc3c","#4545ee"]}}}},
   {"data":{"name":"dirB"},"mark":{"type":"text","font":"Liberation Serif, Times New Roman, DejaVu Serif, serif","fontSize":14,"color":"#111111"},
    "encoding":{
     "x":{"field":"x","type":"quantitative","scale":{"type":"log","domain":[0.01,100],"nice":false},"axis":null},
     "y":{"field":"y","type":"quantitative","scale":{"type":"log","domain":[1e-6,1e8],"nice":false},"axis":null},
     "text":{"field":"t"}}},
   {"data":{"name":"mathB"},"mark":{"type":"text","font":"Liberation Serif, Times New Roman, DejaVu Serif, serif","fontSize":12,"fontStyle":"italic"},
    "encoding":{
     "x":{"field":"x","type":"quantitative","scale":{"type":"log","domain":[0.01,100],"nice":false},"axis":null},
     "y":{"field":"y","type":"quantitative","scale":{"type":"log","domain":[1e-6,1e8],"nice":false},"axis":null},
     "text":{"field":"t"},
     "color":{"field":"s","type":"nominal","legend":null,"scale":{"domain":["ao","ag","at","al","ab","av","ai","by","bo","bg","bb","bl","bi","blime","bv","fr","fg","fb","tr","tg","tb"],"range":["#c4b62e","#5dc878","#20b2b5","#37a5e3","#3d85ec","#4a56e4","#3a2a9c","#f8e51a","#f2a52c","#52c46c","#4a7eee","#4b88f0","#3a2c9c","#c3e22e","#4b6fec","#ff1a1a","#2ee52e","#1414e6","#ff2a2a","#3cbc3c","#4545ee"]}}}}
  ]
 }
]
}
